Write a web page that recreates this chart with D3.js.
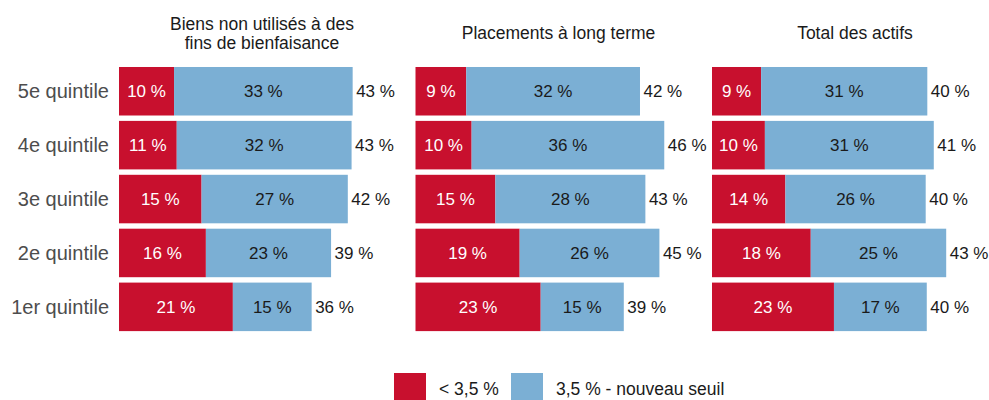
<!DOCTYPE html>
<html>
<head>
<meta charset="utf-8">
<script src="https://cdn.jsdelivr.net/npm/d3@7"></script>
<style>
  body { margin: 0; background: #fff; }
  svg { font-family: "Liberation Sans", Arial, sans-serif; }
</style>
</head>
<body>
<div id="chart"></div>
<script>
// Quintiles, top to bottom
var quintiles = ["5e quintile", "4e quintile", "3e quintile", "2e quintile", "1er quintile"]

// Panel titles (one line per entry)
var panelTitles = [
  ["Biens non utilisés à des", "fins de bienfaisance"],
  ["Placements à long terme"],
  ["Total des actifs"],
]

// Share (%) below 3,5 %
var belowBiens = [10.2, 10.7, 15.3, 16.1, 21.1]
var belowPlacements = [9.4, 10.4, 14.8, 19.3, 23.2]
var belowTotal = [9.1, 9.8, 13.6, 18.3, 22.6]

// Share (%) between 3,5 % and the new threshold
var newBiens = [33.1, 32.4, 27.1, 23.2, 14.6]
var newPlacements = [32.2, 35.7, 27.8, 25.9, 15.4]
var newTotal = [30.8, 31.3, 26.0, 25.1, 17.2]

var legendLabels = ["< 3,5 %", "3,5 % - nouveau seuil"]

var below = [belowBiens, belowPlacements, belowTotal]
var above = [newBiens, newPlacements, newTotal]

var width = 989
var height = 400

var svg = d3
  .select("#chart")
  .append("svg")
  .attr("width", width)
  .attr("height", height)

// Colors
var color = d3.scaleOrdinal().domain(legendLabels).range(["#C8102E", "#7BAFD4"])

// Panel layout
var panelX = d3.scaleLinear().domain([0, 1]).range([119, 415.5])

// Shared scales
var x = d3.scaleLinear().domain([0, 53]).range([0, 286])
var y = d3
  .scaleBand()
  .domain(quintiles)
  .range([64.3, 333.8])
  .paddingInner(0.1)
  .paddingOuter(0.05)

var fmt = (v) => Math.round(v) + " %"

// Row labels
svg
  .append("g")
  .selectAll("text")
  .data(quintiles)
  .enter()
  .append("text")
  .attr("x", 109)
  .attr("y", (d) => y(d) + y.bandwidth() / 2)
  .attr("dy", "0.35em")
  .attr("text-anchor", "end")
  .attr("fill", "#4D4D4D")
  .style("font-size", "20px")
  .text((d) => d)

panelTitles.forEach(function (title, p) {
  var g = svg.append("g").attr("transform", "translate(" + panelX(p) + ",0)")

  var rows = quintiles.map((q, i) => ({
    q: q,
    below: below[p][i],
    above: above[p][i],
  }))

  // Panel title, centred on panel
  var lineH = 19
  var firstBaseline = 39 - ((title.length - 1) * lineH) / 2
  g.append("text")
    .attr("x", x.range()[1] / 2)
    .attr("text-anchor", "middle")
    .attr("fill", "#1A1A1A")
    .style("font-size", "17.5px")
    .selectAll("tspan")
    .data(title)
    .enter()
    .append("tspan")
    .attr("x", x.range()[1] / 2)
    .attr("y", (d, i) => firstBaseline + i * lineH)
    .text((d) => d)

  // Red segment
  g.selectAll(".bar-below")
    .data(rows)
    .enter()
    .append("rect")
    .attr("class", "bar-below")
    .attr("x", x(0))
    .attr("y", (d) => y(d.q))
    .attr("width", (d) => x(d.below) - x(0))
    .attr("height", y.bandwidth())
    .attr("fill", color(legendLabels[0]))

  // Blue segment
  g.selectAll(".bar-above")
    .data(rows)
    .enter()
    .append("rect")
    .attr("class", "bar-above")
    .attr("x", (d) => x(d.below))
    .attr("y", (d) => y(d.q))
    .attr("width", (d) => x(d.below + d.above) - x(d.below))
    .attr("height", y.bandwidth())
    .attr("fill", color(legendLabels[1]))

  // Segment labels
  g.selectAll(".lab-below")
    .data(rows)
    .enter()
    .append("text")
    .attr("x", (d) => x(d.below / 2))
    .attr("y", (d) => y(d.q) + y.bandwidth() / 2)
    .attr("dy", "0.35em")
    .attr("text-anchor", "middle")
    .attr("fill", "#FFFFFF")
    .style("font-size", "17px")
    .text((d) => fmt(d.below))

  g.selectAll(".lab-above")
    .data(rows)
    .enter()
    .append("text")
    .attr("x", (d) => x(d.below + d.above / 2))
    .attr("y", (d) => y(d.q) + y.bandwidth() / 2)
    .attr("dy", "0.35em")
    .attr("text-anchor", "middle")
    .attr("fill", "#1A1A1A")
    .style("font-size", "17px")
    .text((d) => fmt(d.above))

  // Totals
  g.selectAll(".lab-total")
    .data(rows)
    .enter()
    .append("text")
    .attr("x", (d) => x(d.below + d.above) + 3.5)
    .attr("y", (d) => y(d.q) + y.bandwidth() / 2)
    .attr("dy", "0.35em")
    .attr("text-anchor", "start")
    .attr("fill", "#1A1A1A")
    .style("font-size", "17px")
    .text((d) => fmt(d.below + d.above))
})

// Legend
var legendX = [394, 511]
var legend = svg
  .append("g")
  .selectAll("g")
  .data(legendLabels)
  .enter()
  .append("g")
  .attr("transform", (d, i) => "translate(" + legendX[i] + ",373)")

legend
  .append("rect")
  .attr("width", 32)
  .attr("height", 32)
  .attr("fill", (d) => color(d))

legend
  .append("text")
  .attr("x", 45)
  .attr("y", 16)
  .attr("dy", "0.35em")
  .attr("fill", "#1A1A1A")
  .style("font-size", "17.5px")
  .text((d) => d)
</script>
</body>
</html>
